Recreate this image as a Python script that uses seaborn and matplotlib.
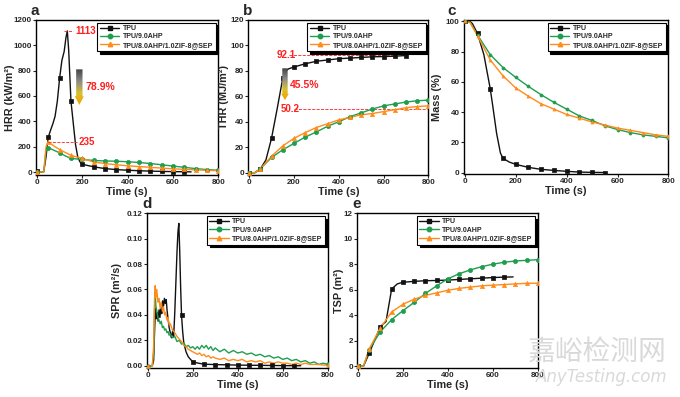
import numpy as np
import pandas as pd
import seaborn as sns
import matplotlib.pyplot as plt
from matplotlib.lines import Line2D
from matplotlib.patches import Polygon
from matplotlib.colors import LinearSegmentedColormap

# ---- data ----
names = ['TPU', 'TPU/9.0AHP', 'TPU/8.0AHP/1.0ZIF-8@SEP']

# a: heat release rate (kW/m2)
hrr_t_tpu = [0, 10, 20, 30, 40, 50, 60, 70, 80, 90, 100, 110, 120, 128, 134, 140, 150, 160, 170,
             180, 190, 200, 250, 300, 350, 400, 450, 500, 550, 600, 650, 680]
hrr_tpu = [8, 2, 0, 5, 120, 275, 330, 380, 440, 560, 740, 880, 950, 1060, 1113, 960, 560, 390, 220,
           120, 80, 62, 42, 28, 20, 15, 11, 8, 6, 4, 3, 2]
hrr_t_fr = [0, 30, 40, 50, 60, 80, 100, 125, 150, 175, 200, 250, 300, 350, 400, 450, 500, 550,
            600, 650, 700, 750, 800]
hrr_green = [0, 2, 170, 192, 185, 168, 152, 128, 108, 104, 100, 92, 88, 86, 82, 76, 68, 58,
             48, 38, 28, 20, 15]
hrr_orange = [0, 2, 200, 235, 225, 200, 178, 155, 132, 120, 108, 80, 68, 58, 50, 44, 38, 32,
              26, 22, 18, 14, 12]

# b: total heat release (MJ/m2)
thr_t_tpu = [0, 25, 50, 75, 100, 125, 150, 160, 175, 200, 250, 300, 350, 400, 450, 500, 550, 600, 650, 700]
thr_tpu = [0, 0, 3, 10, 27, 50, 74, 79, 81.5, 83, 85.5, 87.5, 88.5, 89.5, 90, 90.5, 91, 91.2, 91.5, 92]
thr_t_fr = [0, 25, 50, 100, 150, 200, 250, 300, 350, 400, 450, 500, 550, 600, 650, 700, 750, 800]
thr_green = [0, 0, 3, 12, 18, 23, 28, 32, 36.5, 40, 44, 47, 50, 52.5, 54, 55.5, 56.5, 57]
thr_orange = [0, 0, 3, 13, 21, 27, 31.5, 35.5, 38.5, 41.5, 43.5, 45.5, 46.5, 48, 49.5, 51, 52, 52.5]

# c: mass (%)
mass_t_tpu = [0, 20, 30, 50, 75, 100, 110, 125, 140, 150, 175, 200, 250, 300, 350, 400, 450, 500, 550]
mass_tpu = [100, 100, 98.5, 92, 78, 55.5, 44, 26, 13, 9.5, 7, 5.5, 3.5, 2.2, 1.5, 0.9, 0.4, 0.2, 0.1]
mass_t_fr = [0, 20, 50, 100, 150, 200, 250, 300, 350, 400, 450, 500, 550, 600, 650, 700, 750, 800]
mass_green = [100, 99.5, 91, 78, 69.5, 63, 57, 51.5, 46.5, 42, 37.5, 34.5, 31, 28.5, 26.5, 25, 24, 23]
mass_orange = [100, 99.5, 90.5, 74.5, 64, 56, 50.5, 45.5, 42, 38.5, 36, 33.5, 31.5, 29.5, 28, 26.5, 25, 24]

# d: smoke production rate (m2/s)
spr_t_tpu = [0, 20, 26, 30, 34, 38, 42, 46, 50, 54, 58, 62, 66, 70, 74, 78, 82, 86, 90, 95,
             100, 105, 110, 115, 120, 125, 130, 134, 138, 142, 146, 150, 155, 160, 170, 180, 190, 200,
             225, 250, 300, 350, 400, 450, 500, 550, 600, 650, 680]
spr_tpu = [0, 0, 0.004, 0.026, 0.045, 0.037, 0.042, 0.035, 0.044, 0.038, 0.046, 0.041, 0.051, 0.047,
           0.053, 0.049, 0.052, 0.043, 0.037, 0.030, 0.026, 0.022, 0.027, 0.023, 0.042, 0.066, 0.090,
           0.105, 0.112, 0.090, 0.062, 0.040, 0.027, 0.018, 0.011, 0.007, 0.005, 0.003, 0.002, 0.0012,
           0.0009, 0.0007, 0.0005, 0.0004, 0.0003, 0.0002, 0.0001, 0.0, 0.0]
spr_t_fr = [0, 20, 26, 30, 33, 36, 40, 45, 50, 55, 60, 65, 70, 75, 80, 85, 90, 95, 100, 110,
            120, 130, 140, 150, 160, 170, 180, 190, 200, 210, 220, 230, 240, 250, 260, 270, 280, 290,
            300, 320, 340, 360, 380, 400, 420, 440, 460, 480, 500, 520, 540, 560, 580, 600, 620, 640,
            660, 680, 700, 720, 740, 760, 780, 800]
spr_green = [0, 0, 0.01, 0.045, 0.058, 0.047, 0.043, 0.038, 0.036, 0.033, 0.035, 0.030, 0.031, 0.028,
             0.029, 0.026, 0.027, 0.024, 0.025, 0.022, 0.023, 0.019, 0.020, 0.017, 0.018, 0.015, 0.016,
             0.014, 0.015, 0.013, 0.015, 0.013, 0.016, 0.014, 0.016, 0.013, 0.015, 0.012, 0.014, 0.011,
             0.013, 0.010, 0.012, 0.010, 0.011, 0.009, 0.010, 0.008, 0.009, 0.007, 0.008, 0.006, 0.007,
             0.005, 0.006, 0.004, 0.005, 0.003, 0.004, 0.002, 0.003, 0.001, 0.002, 0.001]
spr_orange = [0, 0, 0.015, 0.052, 0.063, 0.054, 0.060, 0.050, 0.053, 0.045, 0.050, 0.043, 0.046, 0.040,
              0.042, 0.036, 0.038, 0.032, 0.033, 0.028, 0.026, 0.023, 0.021, 0.019, 0.016, 0.015, 0.013,
              0.012, 0.011, 0.010, 0.009, 0.010, 0.008, 0.009, 0.007, 0.008, 0.006, 0.007, 0.006, 0.005,
              0.006, 0.004, 0.005, 0.004, 0.005, 0.003, 0.004, 0.003, 0.004, 0.002, 0.003, 0.002, 0.003,
              0.002, 0.002, 0.001, 0.002, 0.001, 0.002, 0.001, 0.001, 0.001, 0.0005, 0.0005]

# e: total smoke production (m2)
tsp_t_tpu = [0, 25, 50, 100, 125, 150, 175, 200, 250, 300, 350, 400, 450, 500, 550, 600, 650, 690]
tsp_tpu = [0, 0, 1.0, 3.1, 3.5, 6.05, 6.45, 6.58, 6.65, 6.7, 6.72, 6.75, 6.8, 6.85, 6.9, 6.95, 6.98, 7.0]
tsp_t_fr = [0, 25, 50, 100, 150, 200, 250, 300, 350, 400, 450, 500, 550, 600, 650, 700, 750, 800]
tsp_green = [0, 0, 1.3, 2.7, 3.65, 4.35, 5.0, 5.7, 6.3, 6.85, 7.25, 7.55, 7.8, 8.0, 8.15, 8.25, 8.3, 8.35]
tsp_orange = [0, 0, 1.35, 3.0, 4.25, 4.85, 5.25, 5.55, 5.75, 5.95, 6.1, 6.2, 6.3, 6.35, 6.4, 6.45, 6.5, 6.5]

colors = ['#111111', '#1f9e4f', '#ff8c1a']
markers = ['s', 'o', '^']

sns.set_theme(style='ticks')
plt.rcParams['font.family'] = ['Liberation Sans', 'DejaVu Sans']
plt.rcParams['font.weight'] = 'bold'
plt.rcParams['axes.labelweight'] = 'bold'
plt.rcParams['axes.linewidth'] = 1.0
plt.rcParams['xtick.direction'] = 'out'
plt.rcParams['ytick.direction'] = 'out'

fig = plt.figure(figsize=(6.8, 3.97), dpi=100)

grad_cmap = LinearSegmentedColormap.from_list('arr', ['#444444', '#8a8a8a', '#d8c030', '#f5a300'])
LABEL_FS = 7.8


def draw_panel(ax, series, ms, mark_times=None):
    for i, (t, v) in enumerate(series):
        df = pd.DataFrame({'t': t, 'v': v})
        sns.lineplot(data=df, x='t', y='v', ax=ax, color=colors[i], lw=1.0,
                     legend=False, errorbar=None, sort=False, zorder=2 + i * 0.1)
        if mark_times is None:
            pts = df[df.t % 50 == 0]
        else:
            pts = df[df.t.isin(mark_times[i])]
        sns.scatterplot(data=pts, x='t', y='v', ax=ax, color=colors[i], marker=markers[i],
                        s=ms ** 2, edgecolor=colors[i], linewidth=0.5, legend=False, zorder=3 + i * 0.1)
    handles = [Line2D([], [], color=colors[i], marker=markers[i], ms=3.2, lw=1.0) for i in range(3)]
    leg = ax.legend(handles, names, loc='upper right', fontsize=5, frameon=True, fancybox=False,
                    edgecolor='black', framealpha=1, shadow={'color': 'black', 'alpha': 1},
                    handlelength=2.8, handletextpad=0.5, labelspacing=0.2, borderpad=0.35,
                    borderaxespad=0.4)
    leg.get_frame().set_linewidth(0.8)
    ax.set_xlim(-4, 800)
    ax.set_xticks([0, 200, 400, 600, 800])
    ax.set_xlabel('Time (s)', fontsize=LABEL_FS, labelpad=0.5)
    ax.tick_params(labelsize=5.8, length=2.0, width=0.8, pad=1.0)
    for sp in ax.spines.values():
        sp.set_visible(True)
        sp.set_color('black')


def grad_arrow(ax, xc, y_top, y_tip, shaft_w, head_w, head_len):
    yh = y_tip + head_len
    pts = [(xc - shaft_w / 2, y_top), (xc + shaft_w / 2, y_top), (xc + shaft_w / 2, yh),
           (xc + head_w / 2, yh), (xc, y_tip), (xc - head_w / 2, yh), (xc - shaft_w / 2, yh)]
    poly = Polygon(pts, closed=True, facecolor='none', edgecolor='none')
    ax.add_patch(poly)
    grad = np.linspace(0, 1, 64).reshape(-1, 1)
    im = ax.imshow(grad, cmap=grad_cmap, aspect='auto', origin='upper',
                   extent=(xc - head_w / 2, xc + head_w / 2, y_tip, y_top), zorder=4)
    im.set_clip_path(poly)


red = '#ff1f1f'

# ---- a ----
ax_a = fig.add_axes([0.053, 0.560, 0.268, 0.390])
draw_panel(ax_a, [(hrr_t_tpu, hrr_tpu), (hrr_t_fr, hrr_green), (hrr_t_fr, hrr_orange)], 3.0)
ax_a.plot([121, 160], [1113, 1113], ls='--', color=red, lw=0.6, zorder=5)
ax_a.text(168, 1113, '1113', color=red, fontsize=7, fontweight='bold', va='center')
ax_a.plot([47, 177], [235, 235], ls='--', color=red, lw=0.6, zorder=5)
ax_a.text(183, 235, '235', color=red, fontsize=7, fontweight='bold', va='center')
grad_arrow(ax_a, 187, 810, 530, 28, 40, 68)
ax_a.text(212, 670, '78.9%', color=red, fontsize=7.5, fontweight='bold', va='center')
ax_a.set_xlim(-4, 800)
ax_a.set_ylim(-20, 1200)
ax_a.set_yticks(range(0, 1201, 200))
ax_a.set_ylabel('HRR (kW/m²)', fontsize=LABEL_FS)
ax_a.yaxis.set_label_coords(-0.115, 0.5)

# ---- b ----
ax_b = fig.add_axes([0.365, 0.560, 0.265, 0.390])
draw_panel(ax_b, [(thr_t_tpu, thr_tpu), (thr_t_fr, thr_green), (thr_t_fr, thr_orange)], 3.0)
ax_b.plot([180, 660], [92.1, 92.1], ls='--', color=red, lw=0.6, zorder=1)
ax_b.text(121, 92.1, '92.1', color=red, fontsize=7, fontweight='bold', va='center')
ax_b.plot([200, 795], [50.2, 50.2], ls='--', color=red, lw=0.6, zorder=1)
ax_b.text(140, 50.2, '50.2', color=red, fontsize=7, fontweight='bold', va='center')
grad_arrow(ax_b, 160, 82, 57, 24, 34, 5)
ax_b.text(184, 69, '45.5%', color=red, fontsize=7.5, fontweight='bold', va='center')
ax_b.set_xlim(-4, 800)
ax_b.set_ylim(-1.5, 120)
ax_b.set_yticks(range(0, 121, 20))
ax_b.set_ylabel('THR (MJ/m²)', fontsize=LABEL_FS)
ax_b.yaxis.set_label_coords(-0.105, 0.5)

# ---- c ----
ax_c = fig.add_axes([0.682, 0.562, 0.301, 0.388])
draw_panel(ax_c, [(mass_t_tpu, mass_tpu), (mass_t_fr, mass_green), (mass_t_fr, mass_orange)], 2.2)
ax_c.set_ylim(-0.8, 101)
ax_c.set_yticks(range(0, 101, 20))
ax_c.set_ylabel('Mass (%)', fontsize=LABEL_FS)
ax_c.yaxis.set_label_coords(-0.108, 0.5)

# ---- d ----
ax_d = fig.add_axes([0.216, 0.073, 0.266, 0.390])
draw_panel(ax_d, [(spr_t_tpu, spr_tpu), (spr_t_fr, spr_green), (spr_t_fr, spr_orange)], 2.6,
           mark_times=[[150, 200, 250, 300, 350, 400, 450, 500, 550, 600, 650], [0, 800], [0, 800]])
ax_d.set_ylim(-0.0018, 0.12)
ax_d.set_yticks([0, 0.02, 0.04, 0.06, 0.08, 0.10, 0.12])
ax_d.set_yticklabels(['0.00', '0.02', '0.04', '0.06', '0.08', '0.10', '0.12'])
ax_d.set_ylabel('SPR (m²/s)', fontsize=LABEL_FS)
ax_d.yaxis.set_label_coords(-0.135, 0.5)

# ---- e ----
ax_e = fig.add_axes([0.525, 0.073, 0.266, 0.390])
draw_panel(ax_e, [(tsp_t_tpu, tsp_tpu), (tsp_t_fr, tsp_green), (tsp_t_fr, tsp_orange)], 3.0)
ax_e.set_ylim(-0.15, 12)
ax_e.set_yticks(range(0, 13, 2))
ax_e.set_ylabel('TSP (m²)', fontsize=LABEL_FS)
ax_e.yaxis.set_label_coords(-0.07, 0.5)

# panel letters
for lab, x, y in [('a', 0.045, 0.955), ('b', 0.357, 0.955), ('c', 0.658, 0.955),
                  ('d', 0.209, 0.468), ('e', 0.518, 0.468)]:
    fig.text(x, y, lab, fontsize=11, fontweight='bold', va='bottom', ha='left')

# watermark
fig.text(0.879, 0.113, '嘉峪检测网', fontsize=20, color='#d9d9d9', ha='center', va='center',
         family=['Noto Sans CJK SC', 'DejaVu Sans'], fontweight='normal')
fig.text(0.885, 0.050, 'AnyTesting.com', fontsize=12, color='#d9d9d9', ha='center', va='center',
         family='DejaVu Sans', style='italic', fontweight='normal')

fig.savefig('out.png', dpi=100)
